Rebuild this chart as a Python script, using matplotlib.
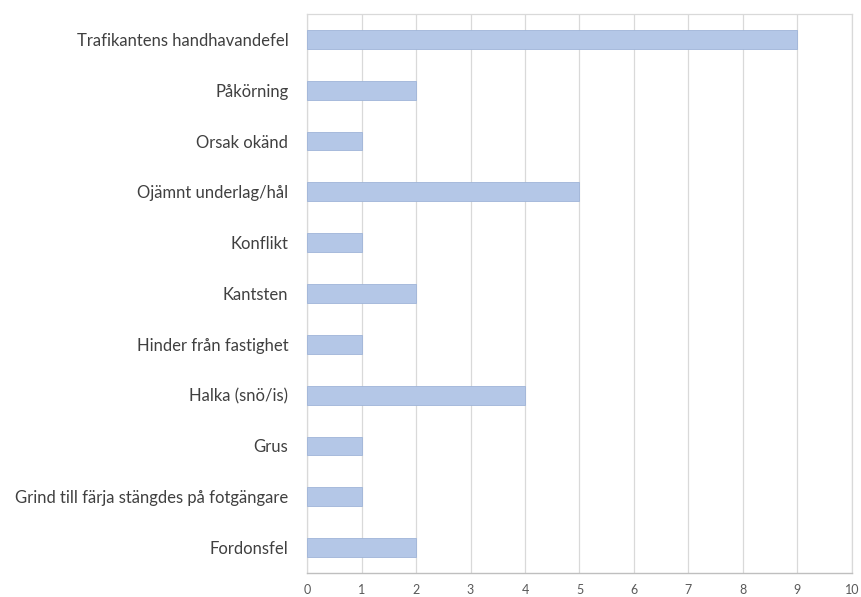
import matplotlib
matplotlib.use("Agg")
import matplotlib.pyplot as plt

# data (bottom to top)
categories = [
    "Fordonsfel",
    "Grind till färja stängdes på fotgängare",
    "Grus",
    "Halka (snö/is)",
    "Hinder från fastighet",
    "Kantsten",
    "Konflikt",
    "Ojämnt underlag/hål",
    "Orsak okänd",
    "Påkörning",
    "Trafikantens handhavandefel",
]
counts = [2, 1, 1, 4, 1, 2, 1, 5, 1, 2, 9]
xticks = list(range(0, 11))

plt.rcParams['font.family'] = ['Lato', 'DejaVu Sans']

fig = plt.figure(figsize=(8.61, 5.97), dpi=100)
ax = fig.add_axes([0.3566, 0.0402, 0.6329, 0.9363])

ax.barh(range(len(categories)), counts, height=0.37, color='#b4c7e7',
        edgecolor='#9fb4d8', linewidth=0.6, zorder=3)

ax.set_xlim(0, 10)
ax.set_ylim(-0.5, len(categories) - 0.5)
ax.set_xticks(xticks)
ax.set_yticks(range(len(categories)))
ax.set_yticklabels(categories)
ax.tick_params(axis='y', length=0, pad=13.5, labelsize=12, labelcolor='#404040')
ax.tick_params(axis='x', length=0, pad=8, labelsize=9, labelcolor='#595959')

ax.grid(axis='x', color='#d9d9d9', linewidth=0.9, zorder=0)
for side in ['left', 'right', 'top']:
    ax.spines[side].set_color('#d9d9d9')
    ax.spines[side].set_linewidth(0.9)
ax.spines['bottom'].set_color('#bfbfbf')
ax.spines['bottom'].set_linewidth(1.0)

fig.savefig("out.png", dpi=100)
